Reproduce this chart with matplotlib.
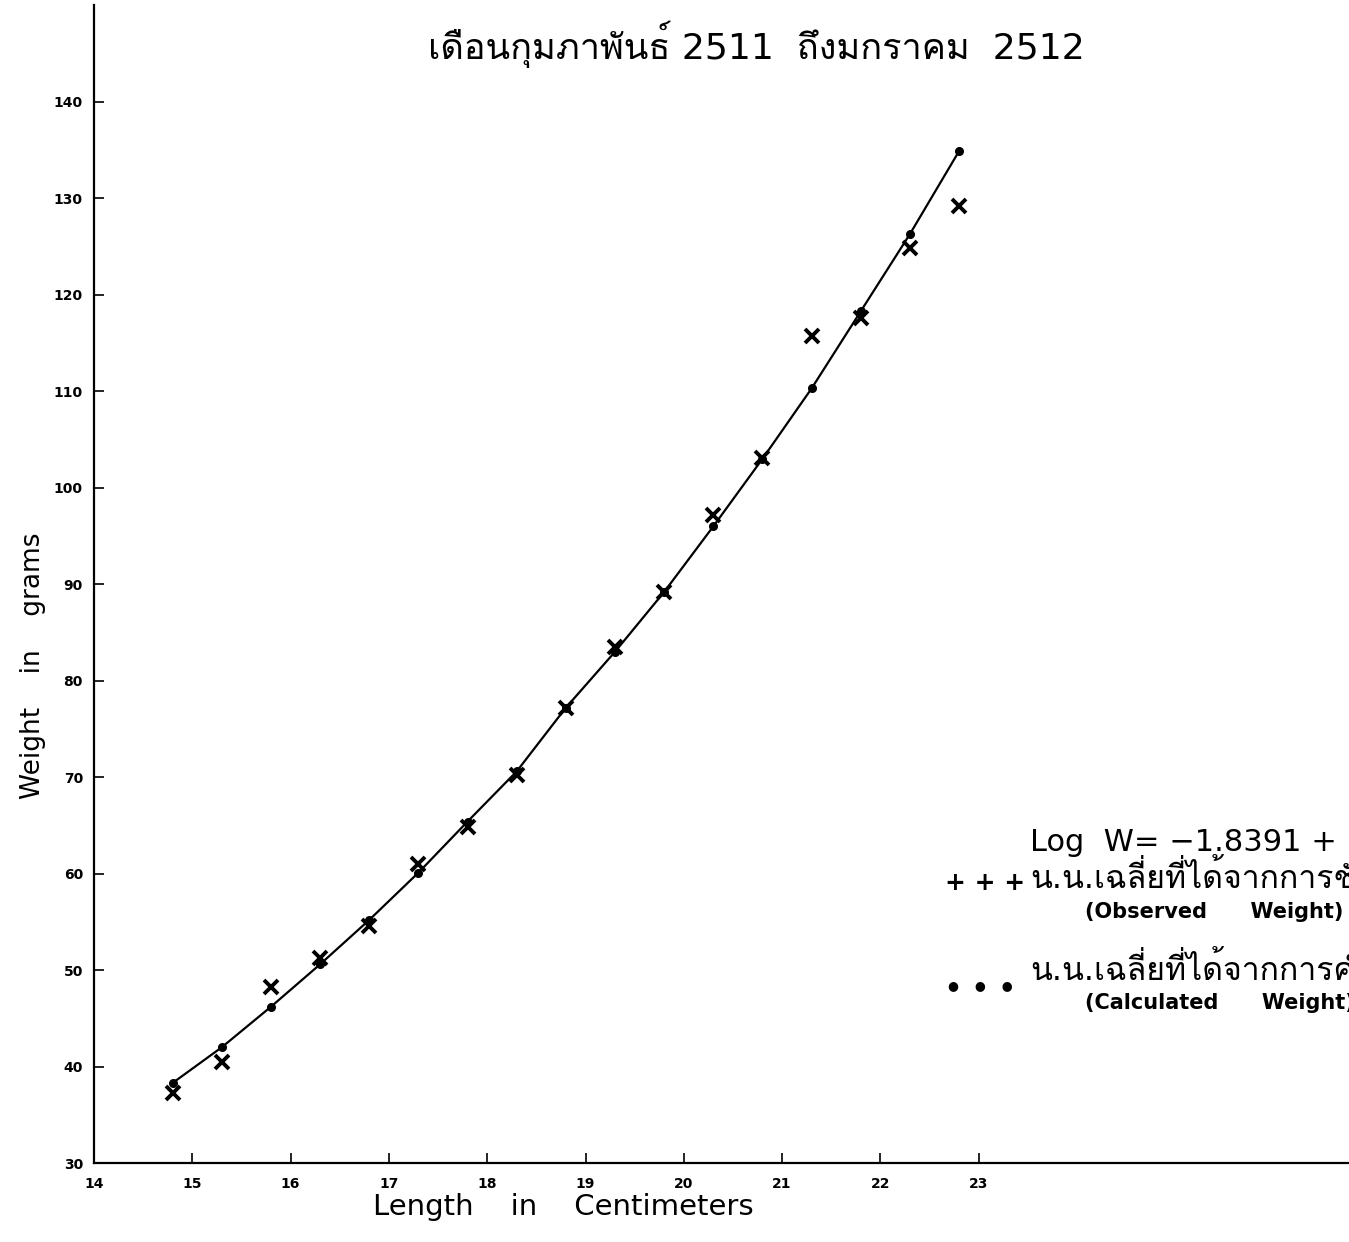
import matplotlib
matplotlib.use("Agg")
import matplotlib.pyplot as plt
from matplotlib import font_manager, ft2font


# หาฟอนต์ที่มีอักษรไทย (ถ้ามี)
def thai_font():
    for f in font_manager.fontManager.ttflist:
        try:
            if 0x0E40 in ft2font.FT2Font(f.fname).get_charmap():
                return f.name
        except Exception:
            pass
    return None


fam = ['DejaVu Sans']
tf = thai_font()
if tf:
    fam.append(tf)
plt.rcParams['font.family'] = fam


# ความยาว (ซม.) กับน้ำหนักเฉลี่ย (กรัม)
length_cm = [14.8, 15.3, 15.8, 16.3, 16.8, 17.3, 17.8, 18.3, 18.8,
             19.3, 19.8, 20.3, 20.8, 21.3, 21.8, 22.3, 22.8]
w_observed = [37.3, 40.5, 48.2, 51.3, 54.6, 61.0, 64.8, 70.2, 77.2,
              83.5, 89.2, 97.2, 103.1, 115.7, 117.6, 124.9, 129.2]
w_calculated = [38.3, 42.0, 46.2, 50.6, 55.2, 60.1, 65.4, 70.6, 77.2,
                83.0, 89.2, 96.0, 103.0, 110.3, 118.3, 126.3, 134.9]

xticks = list(range(14, 24))
yticks = list(range(30, 141, 10))

title = 'เดือนกุมภาพันธ์ 2511  ถึงมกราคม  2512'
equation = 'Log  W= \u22121.8391 +'
obs_th = 'น.น.เฉลี่ยที่ได้จากการชั่ง'
obs_en = '(Observed      Weight)'
calc_th = 'น.น.เฉลี่ยที่ได้จากการคำนวณ'
calc_en = '(Calculated      Weight)'


fig = plt.figure(figsize=(13.49, 12.42), dpi=100)
ax = fig.add_axes([0.0697, 0.0636, 0.94, 0.932])

# เส้นโค้งผ่านค่าที่คำนวณได้
ax.plot(length_cm, w_calculated, color='black', lw=1.6, zorder=2)
ax.plot(length_cm, w_calculated, 'o', color='black', ms=5.5, zorder=3)
ax.plot(length_cm, w_observed, 'x', color='black', ms=10, mew=2.8, zorder=4)

ax.set_xlim(14, 26.9)
ax.set_ylim(30, 150)
ax.set_xticks(xticks)
ax.set_yticks(yticks)
ax.tick_params(axis='both', direction='in', length=7, width=1.2, labelsize=10)
ax.tick_params(axis='x', pad=10)
ax.tick_params(axis='y', pad=8)
for lab in ax.get_xticklabels() + ax.get_yticklabels():
    lab.set_fontweight('bold')

ax.spines['top'].set_visible(False)
ax.spines['right'].set_visible(False)
ax.spines['left'].set_linewidth(1.6)
ax.spines['bottom'].set_linewidth(1.6)

ax.set_xlabel('Length    in    Centimeters', fontsize=21)
ax.xaxis.set_label_coords(0.37, -0.026)
ax.set_ylabel('Weight    in    grams', fontsize=19)
ax.yaxis.set_label_coords(-0.038, 0.43)

fig.text(0.561, 0.964, title, fontsize=26, ha='center', va='center')

# คำอธิบายสัญลักษณ์ (ถูกตัดที่ขอบขวา)
fig.text(0.7635, 0.3213, equation, fontsize=22, va='center')
fig.text(0.7005, 0.2890, '+ + +', fontsize=18, fontweight='bold', va='center')
fig.text(0.7635, 0.2930, obs_th, fontsize=23, va='center')
fig.text(0.8043, 0.2657, obs_en, fontsize=15, fontweight='bold', va='center')
fig.text(0.703, 0.2065, '\u25cf    \u25cf    \u25cf', fontsize=9, va='center')
fig.text(0.7635, 0.2190, calc_th, fontsize=23, va='center')
fig.text(0.8043, 0.1924, calc_en, fontsize=15, fontweight='bold', va='center')

fig.savefig('out.png', dpi=100)
